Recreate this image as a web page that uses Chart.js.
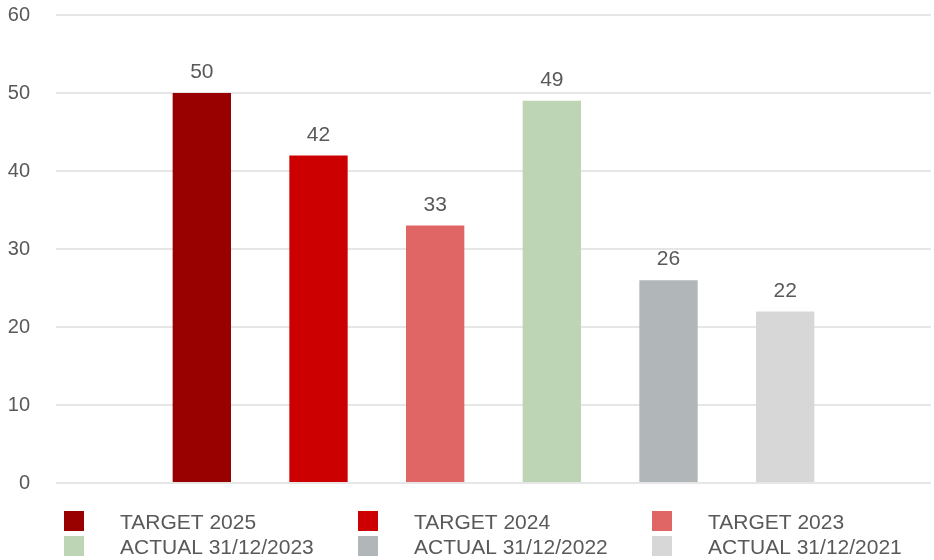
<!DOCTYPE html>
<html>
<head>
<meta charset="utf-8">
<script src="https://cdn.jsdelivr.net/npm/chart.js@4/dist/chart.umd.min.js"></script>
<style>
  html, body { margin: 0; padding: 0; background: #ffffff; }
  #wrap { width: 934px; height: 560px; }
</style>
</head>
<body>
<div id="wrap"><canvas id="chart" width="934" height="560"></canvas></div>
<script>
// Series names and their values
const seriesLabels = ['TARGET 2025', 'TARGET 2024', 'TARGET 2023',
                      'ACTUAL 31/12/2023', 'ACTUAL 31/12/2022', 'ACTUAL 31/12/2021'];
const seriesValues = [50, 42, 33, 49, 26, 22];
const categories = [''];
const yTicks = [0, 10, 20, 30, 40, 50, 60];

const seriesColors = ['#990000', '#CC0000', '#E06666', '#BED5B5', '#B1B6B9', '#D7D7D7'];

const FONT = '"Liberation Sans", Arial, sans-serif';
const TEXT = '#595959';

// Value labels above each bar
const valueLabels = {
  id: 'valueLabels',
  afterDatasetsDraw(chart) {
    const ctx = chart.ctx;
    ctx.save();
    ctx.font = '21px ' + FONT;
    ctx.fillStyle = TEXT;
    ctx.textAlign = 'center';
    ctx.textBaseline = 'bottom';
    chart.data.datasets.forEach((ds, i) => {
      const meta = chart.getDatasetMeta(i);
      meta.data.forEach((bar, j) => {
        ctx.fillText(String(ds.data[j]), bar.x, bar.y - 10);
      });
    });
    ctx.restore();
  }
};

// Three-column legend below the plot
const gridLegend = {
  id: 'gridLegend',
  afterDraw(chart) {
    const ctx = chart.ctx;
    const cols = 3, colX = [64, 358, 652], rowY = [511, 536], box = 20;
    ctx.save();
    ctx.font = '21px ' + FONT;
    ctx.textBaseline = 'middle';
    chart.data.datasets.forEach((ds, i) => {
      const c = i % cols, r = Math.floor(i / cols);
      const x = colX[c], y = rowY[r];
      ctx.fillStyle = ds.backgroundColor;
      ctx.fillRect(x, y, box, box);
      ctx.fillStyle = TEXT;
      ctx.fillText(ds.label, x + 56, y + box / 2 + 2);
    });
    ctx.restore();
  }
};

new Chart(document.getElementById('chart'), {
  type: 'bar',
  data: {
    labels: categories,
    datasets: seriesLabels.map((label, i) => ({
      label: label,
      data: [seriesValues[i]],
      backgroundColor: seriesColors[i],
      borderWidth: 0,
      categoryPercentage: 0.8,
      barPercentage: 0.5
    }))
  },
  options: {
    responsive: false,
    animation: false,
    layout: { padding: { top: 15, right: 3, bottom: 77, left: 0 } },
    plugins: {
      legend: { display: false },
      tooltip: { enabled: false }
    },
    scales: {
      x: { display: false },
      y: {
        min: yTicks[0],
        max: yTicks[yTicks.length - 1],
        afterBuildTicks(scale) { scale.ticks = yTicks.map(v => ({ value: v })); },
        afterFit(scale) {
          scale.width = 56;
          scale.paddingTop = 0;
          scale.paddingBottom = 0;
        },
        border: { display: false },
        grid: { color: '#E6E6E6', lineWidth: 2, drawTicks: false },
        ticks: {
          padding: 26,
          color: TEXT,
          font: { family: FONT, size: 20 }
        }
      }
    }
  },
  plugins: [valueLabels, gridLegend]
});
</script>
</body>
</html>
